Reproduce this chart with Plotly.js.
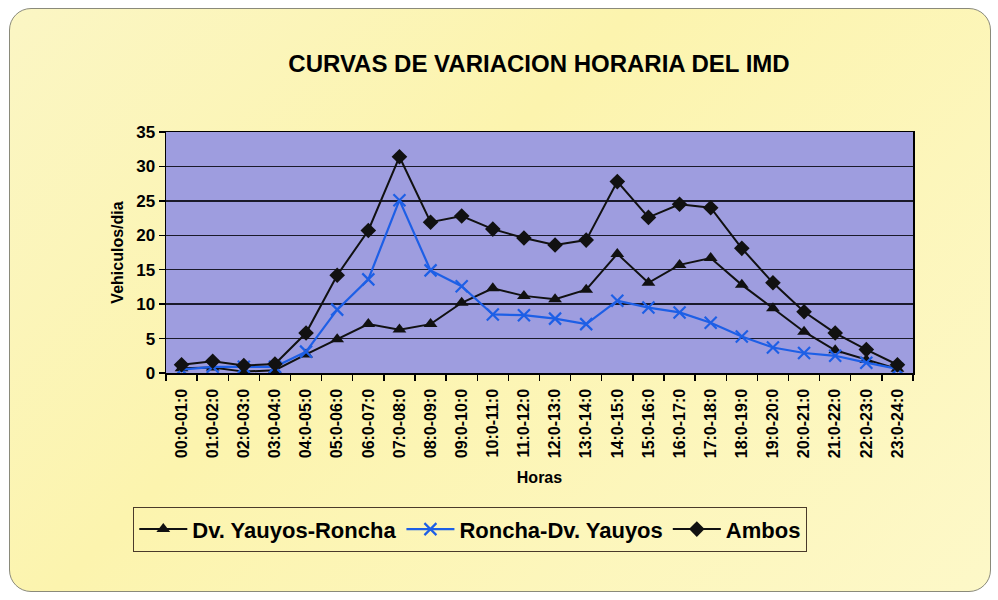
<!DOCTYPE html>
<html>
<head>
<meta charset="utf-8">
<script src="https://cdn.plot.ly/plotly-3.0.1.min.js"></script>
<style>
  html, body { margin: 0; padding: 0; background: #ffffff; }
  #frame { position: absolute; left: 9px; top: 8px; width: 980px; height: 582px;
           border: 1.5px solid #8a8a7a; border-radius: 22px;
           background: linear-gradient(135deg, #fbf6c4 0%, #fcf4ae 40%, #fdf8c8 100%); }
  #chart { position: absolute; left: 0; top: 0; width: 998px; height: 600px; }
</style>
</head>
<body>
<div id="frame"></div>
<div id="chart"></div>
<script>
const horas = ["00:0-01:0","01:0-02:0","02:0-03:0","03:0-04:0","04:0-05:0","05:0-06:0",
  "06:0-07:0","07:0-08:0","08:0-09:0","09:0-10:0","10:0-11:0","11:0-12:0",
  "12:0-13:0","13:0-14:0","14:0-15:0","15:0-16:0","16:0-17:0","17:0-18:0",
  "18:0-19:0","19:0-20:0","20:0-21:0","21:0-22:0","22:0-23:0","23:0-24:0"];
const dvYauyosRoncha = [0.7,0.8,0.2,0.4,2.7,4.9,7.1,6.3,7.1,10.2,12.3,11.2,
  10.7,12.1,17.3,13.1,15.7,16.7,12.8,9.4,6.0,3.3,1.9,0.6];
const ronchaDvYauyos = [0.5,0.9,0.9,0.9,3.1,9.2,13.6,25.1,14.9,12.6,8.5,8.4,
  7.9,7.1,10.5,9.5,8.8,7.3,5.3,3.7,2.9,2.5,1.5,0.6];
const ambos = [1.2,1.7,1.1,1.3,5.8,14.2,20.7,31.4,21.9,22.8,20.9,19.6,
  18.6,19.3,27.8,22.6,24.5,24.0,18.1,13.1,8.9,5.8,3.4,1.2];

const font = "Liberation Sans, Arial, sans-serif";
const traces = [
  { x: horas, y: dvYauyosRoncha, name: "Dv. Yauyos-Roncha", type: "scatter", mode: "lines+markers",
    line: { color: "#111111", width: 2 }, marker: { symbol: "triangle-up", size: 12, color: "#111111" } },
  { x: horas, y: ronchaDvYauyos, name: "Roncha-Dv. Yauyos", type: "scatter", mode: "lines+markers",
    line: { color: "#1d5fe6", width: 2.2 }, marker: { symbol: "x-thin", size: 12, color: "#1d5fe6",
    line: { color: "#1d5fe6", width: 2.2 } } },
  { x: horas, y: ambos, name: "Ambos", type: "scatter", mode: "lines+markers",
    line: { color: "#111111", width: 2 }, marker: { symbol: "diamond", size: 12, color: "#111111" } }
];

const layout = {
  width: 998, height: 600,
  paper_bgcolor: "rgba(0,0,0,0)",
  plot_bgcolor: "#9e9ddf",
  margin: { l: 166, r: 85, t: 132, b: 227 },
  font: { family: font, color: "#000000" },
  title: { text: "<b>CURVAS DE VARIACION HORARIA DEL IMD</b>", font: { size: 24, family: font, color: "#000" },
    x: 539/998, xref: "container", xanchor: "center", y: 1 - 64/600, yref: "container", yanchor: "middle" },
  xaxis: {
    type: "category", range: [-0.5, 23.5], tickangle: -90,
    tickfont: { size: 16, family: font, color: "#000", weight: "bold" },
    ticks: "outside", tickson: "boundaries", ticklen: 6, tickcolor: "#000", tickwidth: 1.3,
    ticklabelstandoff: 8,
    showline: true, linecolor: "#000", linewidth: 1.5, mirror: true,
    showgrid: false,
    title: { text: "<b>Horas</b>", font: { size: 16, family: font }, standoff: 14 }
  },
  yaxis: {
    range: [0, 35], dtick: 5,
    tickfont: { size: 17, family: font, color: "#000", weight: "bold" },
    ticks: "outside", ticklen: 6, tickcolor: "#000", tickwidth: 1.3,
    showline: true, linecolor: "#000", linewidth: 1.5, mirror: true,
    showgrid: true, gridcolor: "#1a1a2a", gridwidth: 1.4, zeroline: false,
    title: { text: "<b>Vehiculos/dia</b>", font: { size: 16, family: font }, standoff: 8 }
  },
  showlegend: true,
  legend: {
    orientation: "h", xref: "container", yref: "container",
    x: 133/998, y: 1 - 507/600, xanchor: "left", yanchor: "top",
    bgcolor: "rgba(0,0,0,0)", bordercolor: "#4a3a2a", borderwidth: 1.3,
    font: { size: 22, family: font, color: "#000", weight: "bold" },
    itemwidth: 48, tracegroupgap: 0
  }
};

Plotly.newPlot("chart", traces, layout, { displayModeBar: false, staticPlot: true });
</script>
</body>
</html>
